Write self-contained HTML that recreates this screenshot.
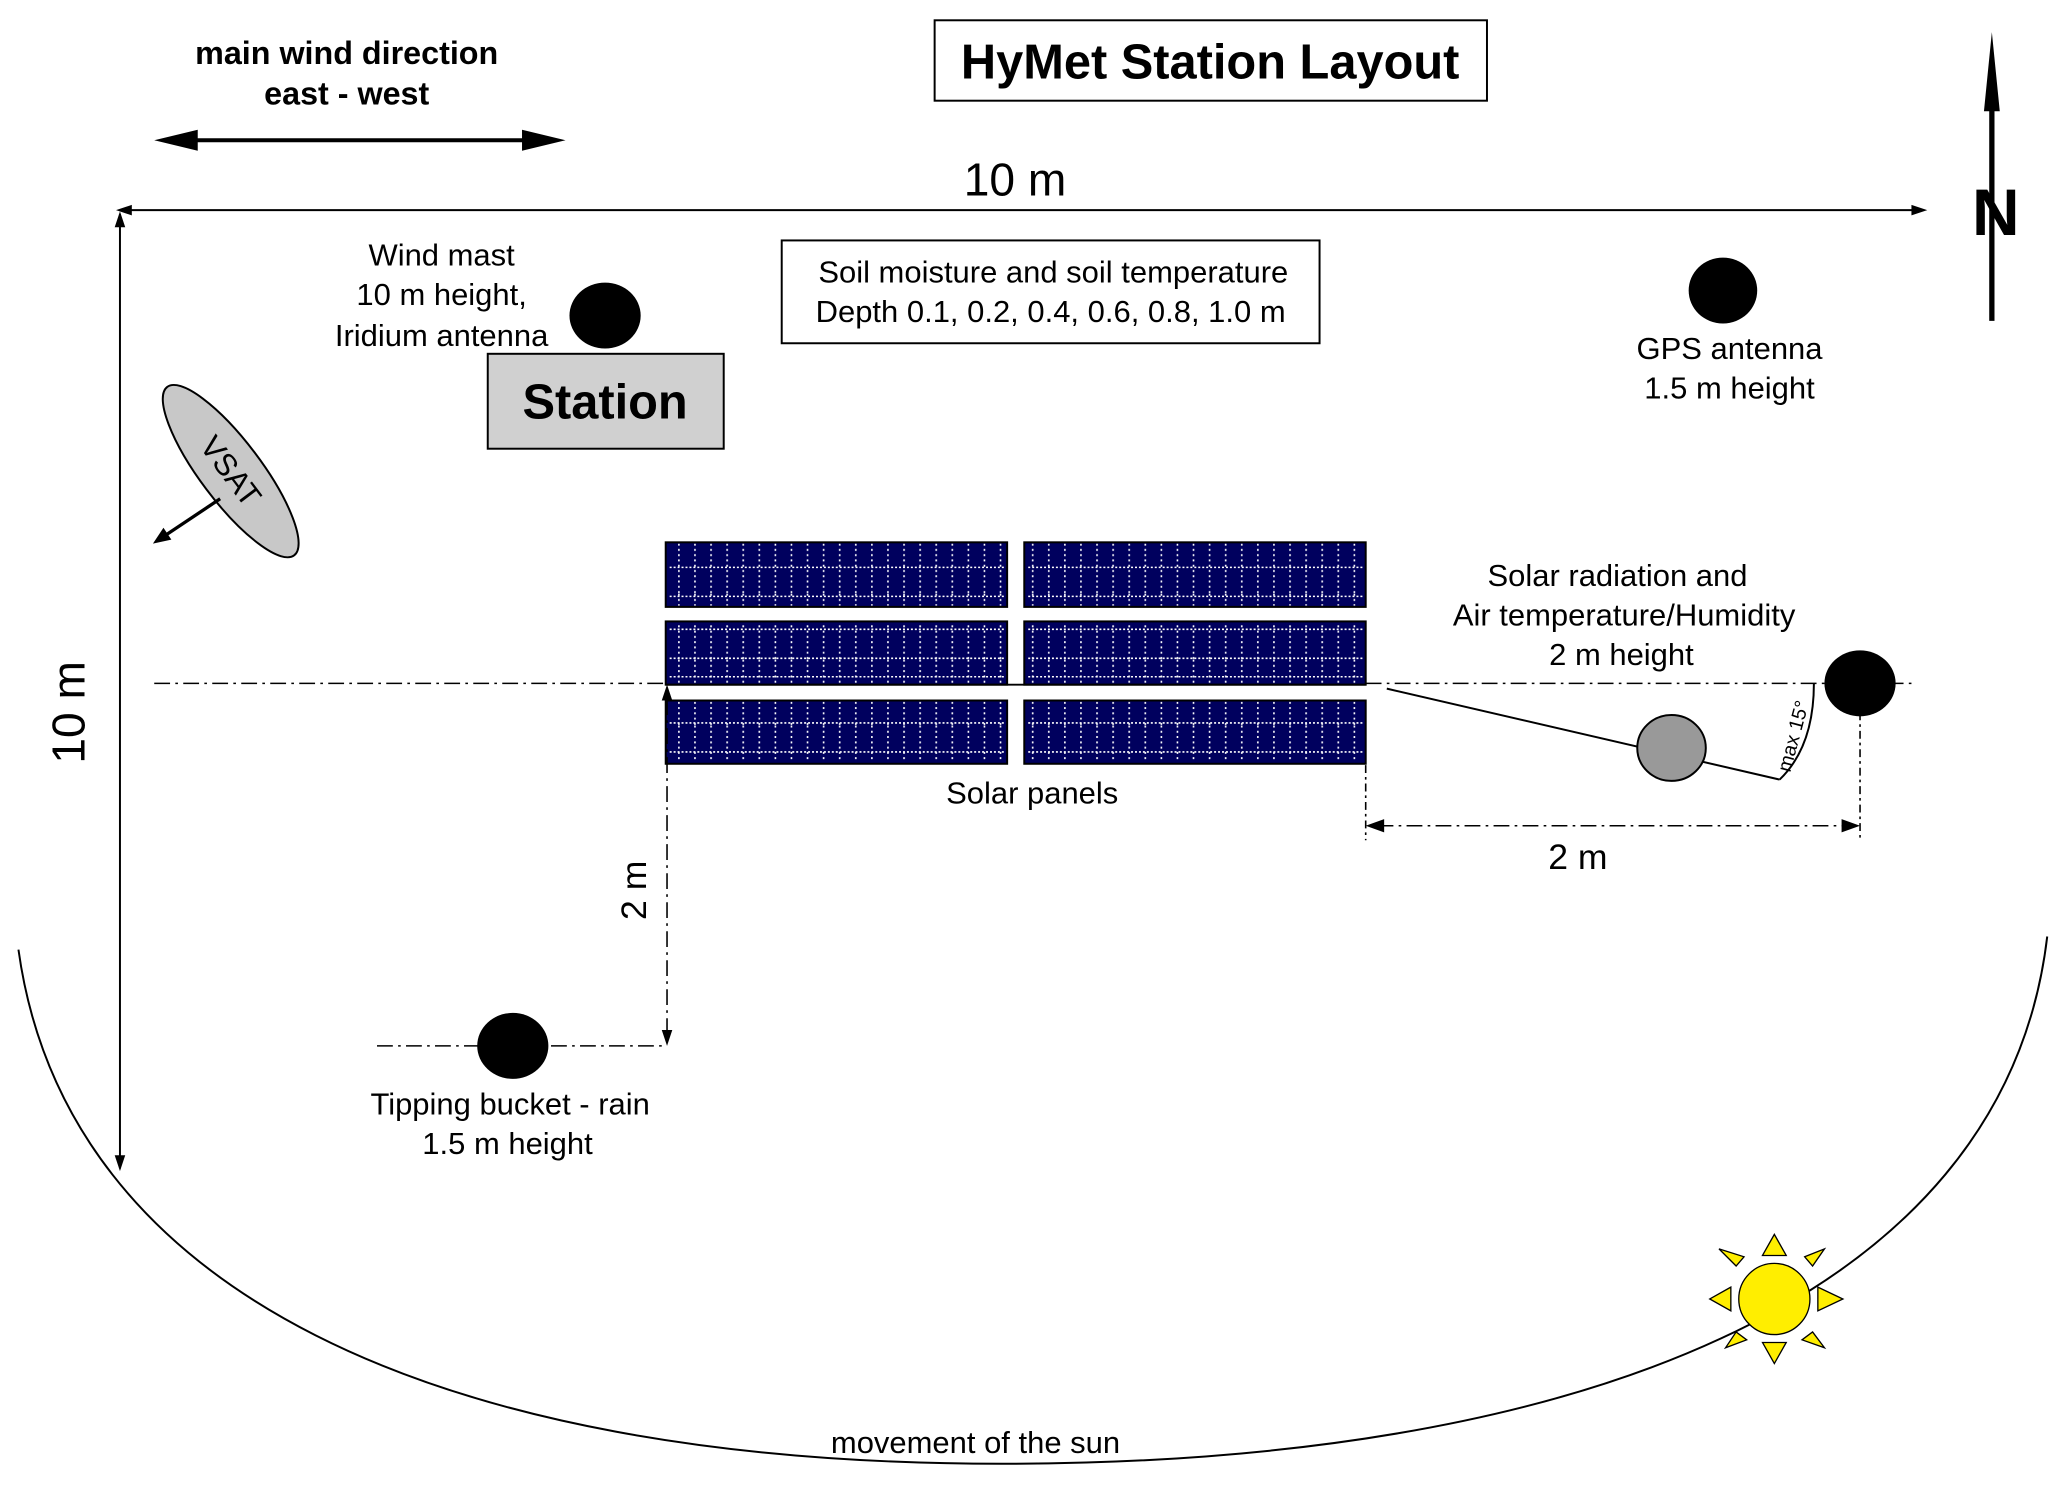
<!DOCTYPE html>
<html><head><meta charset="utf-8"><style>html,body{margin:0;padding:0;background:#fff}svg{display:block}</style></head><body>
<svg width="2067" height="1488" viewBox="0 0 1568 1128" xmlns="http://www.w3.org/2000/svg" font-family="Liberation Sans, sans-serif">
<defs>
<pattern id="pv" width="12.2" height="50" patternUnits="userSpaceOnUse" x="511"><line x1="4" y1="0" x2="4" y2="50" stroke="#fff" stroke-width="1.2" stroke-dasharray="1.5,2.5"/></pattern>
</defs>
<rect width="1568" height="1128" fill="#fff"/>
<rect x="709" y="15" width="419" height="61" fill="#fff" stroke="#000" stroke-width="1.5"/>
<text x="918" y="59" font-size="37" font-weight="bold" text-anchor="middle">HyMet Station Layout</text>
<text x="263" y="48" font-size="24.5" font-weight="bold" text-anchor="middle">main wind direction</text>
<text x="263" y="79" font-size="24.5" font-weight="bold" text-anchor="middle">east - west</text>
<line x1="140" y1="106" x2="406" y2="106" stroke="#000" stroke-width="3"/>
<path d="M117,106 L150,98 L150,114 z M429,106 L396,98 L396,114 z" fill="#000"/>
<line x1="95" y1="159" x2="1455" y2="159" stroke="#000" stroke-width="1.5"/>
<path d="M88,159 L100,155 L100,163 z M1462,159 L1450,155 L1450,163 z" fill="#000"/>
<text x="770" y="148" font-size="35" text-anchor="middle">10 m</text>
<line x1="91" y1="162" x2="91" y2="886" stroke="#000" stroke-width="1.5"/>
<path d="M91,160 L87,172 L95,172 z M91,888 L87,876 L95,876 z" fill="#000"/>
<text transform="translate(64,540) rotate(-90)" font-size="35" text-anchor="middle">10 m</text>
<line x1="1511" y1="50" x2="1511" y2="243" stroke="#000" stroke-width="4"/>
<path d="M1511,24 L1505,84 L1517,84 z" fill="#000"/>
<text x="1514" y="178" font-size="50" font-weight="bold" text-anchor="middle">N</text>
<text x="335" y="201" font-size="23.5" text-anchor="middle">Wind mast</text>
<text x="335" y="231" font-size="23.5" text-anchor="middle">10 m height,</text>
<text x="335" y="262" font-size="23.5" text-anchor="middle">Iridium antenna</text>
<ellipse cx="459" cy="239" rx="27" ry="25" fill="#000"/>
<rect x="370" y="268" width="179" height="72" fill="#d0d0d0" stroke="#000" stroke-width="1.5"/>
<text x="459" y="317" font-size="37" font-weight="bold" text-anchor="middle">Station</text>
<rect x="593" y="182" width="408" height="78" fill="#fff" stroke="#000" stroke-width="1.5"/>
<text x="799" y="214" font-size="23.5" text-anchor="middle">Soil moisture and soil temperature</text>
<text x="797" y="244" font-size="23.5" text-anchor="middle">Depth 0.1, 0.2, 0.4, 0.6, 0.8, 1.0 m</text>
<ellipse cx="1307" cy="220" rx="26" ry="25" fill="#000"/>
<text x="1312" y="272" font-size="23.5" text-anchor="middle">GPS antenna</text>
<text x="1312" y="302" font-size="23.5" text-anchor="middle">1.5 m height</text>
<g transform="translate(175,357) rotate(53)">
<ellipse cx="0" cy="0" rx="80" ry="23" fill="#c8c8c8" stroke="#000" stroke-width="1.5"/>
<text x="0" y="8" font-size="23.5" text-anchor="middle">VSAT</text>
</g>
<line x1="167" y1="378" x2="122" y2="408" stroke="#000" stroke-width="2.5"/>
<path d="M116,412 L124,400 L130,409 z" fill="#000"/>
<line x1="117" y1="518" x2="505" y2="518" stroke="#000" stroke-width="1.2" stroke-dasharray="12,4,2,4"/>
<line x1="1036" y1="518" x2="1450" y2="518" stroke="#000" stroke-width="1.2" stroke-dasharray="12,4,2,4"/>
<g stroke="#000" stroke-width="1.5">
<rect x="505" y="411" width="259" height="49" fill="#00005e"/>
<rect x="777" y="411" width="259" height="49" fill="#00005e"/>
<rect x="505" y="471" width="259" height="48" fill="#00005e"/>
<rect x="777" y="471" width="259" height="48" fill="#00005e"/>
<rect x="505" y="531" width="259" height="48" fill="#00005e"/>
<rect x="777" y="531" width="259" height="48" fill="#00005e"/>
</g>
<g fill="url(#pv)">
<rect x="507" y="412" width="255" height="47"/><rect x="779" y="412" width="255" height="47"/>
<rect x="507" y="472" width="255" height="46"/><rect x="779" y="472" width="255" height="46"/>
<rect x="507" y="532" width="255" height="46"/><rect x="779" y="532" width="255" height="46"/>
</g>
<g stroke="#fff" stroke-width="1.2" stroke-dasharray="1.5,1.5">
<line x1="508" y1="430" x2="762" y2="430"/><line x1="508" y1="452" x2="762" y2="452"/>
<line x1="780" y1="430" x2="1034" y2="430"/><line x1="780" y1="452" x2="1034" y2="452"/>
<line x1="508" y1="477" x2="762" y2="477"/><line x1="508" y1="499" x2="762" y2="499"/>
<line x1="780" y1="477" x2="1034" y2="477"/><line x1="780" y1="499" x2="1034" y2="499"/>
<line x1="508" y1="513" x2="762" y2="513"/><line x1="780" y1="513" x2="1034" y2="513"/>
<line x1="508" y1="548" x2="762" y2="548"/><line x1="508" y1="570" x2="762" y2="570"/>
<line x1="780" y1="548" x2="1034" y2="548"/><line x1="780" y1="570" x2="1034" y2="570"/>
</g>
<line x1="505" y1="519" x2="1036" y2="519" stroke="#000" stroke-width="1.5"/>
<text x="783" y="609" font-size="23.5" text-anchor="middle">Solar panels</text>
<line x1="506" y1="530" x2="506" y2="793" stroke="#000" stroke-width="1.2" stroke-dasharray="12,4,2,4"/>
<path d="M506,519 L502,531 L510,531 z M506,793 L502,781 L510,781 z" fill="#000"/>
<line x1="286" y1="793" x2="506" y2="793" stroke="#000" stroke-width="1.2" stroke-dasharray="12,4,2,4"/>
<text transform="translate(490,675) rotate(-90)" font-size="27" text-anchor="middle">2 m</text>
<ellipse cx="389" cy="793" rx="27" ry="25" fill="#000"/>
<text x="387" y="845" font-size="23.5" text-anchor="middle">Tipping bucket - rain</text>
<text x="385" y="875" font-size="23.5" text-anchor="middle">1.5 m height</text>
<text x="1227" y="444" font-size="23.5" text-anchor="middle">Solar radiation and</text>
<text x="1232" y="474" font-size="23.5" text-anchor="middle">Air temperature/Humidity</text>
<text x="1230" y="504" font-size="23.5" text-anchor="middle">2 m height</text>
<line x1="1036" y1="580" x2="1036" y2="637" stroke="#000" stroke-width="1.2" stroke-dasharray="6,3,2,3"/>
<line x1="1411" y1="540" x2="1411" y2="637" stroke="#000" stroke-width="1.2" stroke-dasharray="6,3,2,3"/>
<line x1="1045" y1="626" x2="1402" y2="626" stroke="#000" stroke-width="1.2" stroke-dasharray="12,4,2,4"/>
<path d="M1036,626 L1050,621 L1050,631 z M1411,626 L1397,621 L1397,631 z" fill="#000"/>
<text x="1197" y="659" font-size="27" text-anchor="middle">2 m</text>
<line x1="1052" y1="522" x2="1350" y2="591" stroke="#000" stroke-width="1.5"/>
<path d="M1350,591 Q1376,566 1376,518" fill="none" stroke="#000" stroke-width="1.5"/>
<text transform="translate(1358,586) rotate(-75)" font-size="15">max 15°</text>
<ellipse cx="1268" cy="567" rx="26" ry="25" fill="#999" stroke="#000" stroke-width="1.5"/>
<ellipse cx="1411" cy="518" rx="27" ry="25" fill="#000"/>
<path d="M14,720 C 50,980 330,1110 760,1110 C 1190,1110 1520,990 1553,710" fill="none" stroke="#000" stroke-width="1.5"/>
<text x="740" y="1102" font-size="23.5" text-anchor="middle">movement of the sun</text>
<g fill="#ffee00" stroke="#000" stroke-width="1">
<circle cx="1346" cy="985" r="27"/>
<path d="M1337,952 L1346,936 L1355,952 z"/>
<path d="M1337,1018 L1346,1034 L1355,1018 z"/>
<path d="M1313,976 L1297,985 L1313,994 z"/>
<path d="M1379,976 L1398,985 L1379,994 z"/>
<path d="M1317,960 L1304,947 L1323,953 z"/>
<path d="M1369,953 L1384,947 L1375,960 z"/>
<path d="M1317,1010 L1309,1022 L1325,1016 z"/>
<path d="M1375,1010 L1384,1022 L1367,1016 z"/>
</g>
</svg>
</body></html>
